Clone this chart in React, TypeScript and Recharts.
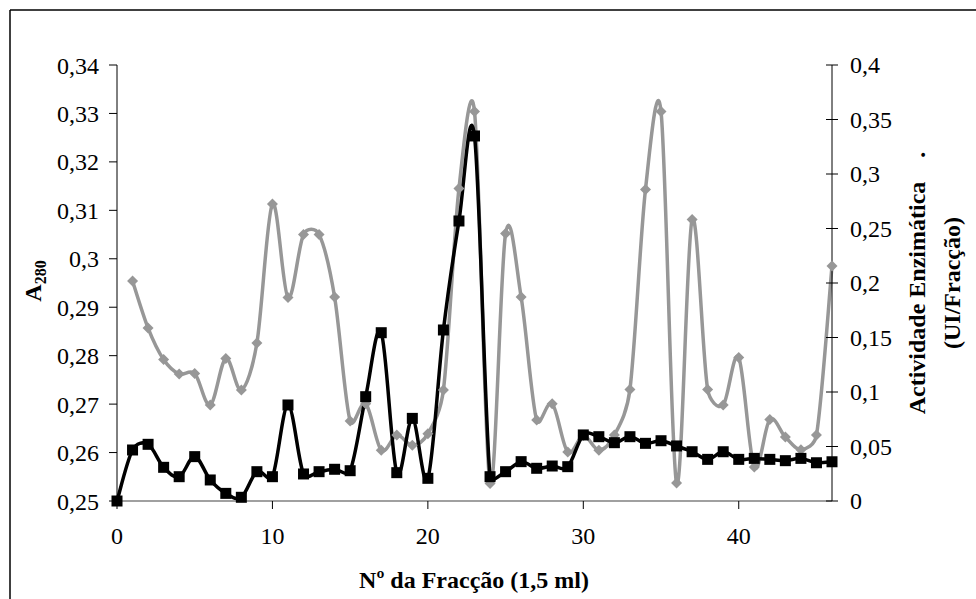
import { LineChart, Line, XAxis, YAxis } from "recharts";

// Nº da fracção (1,5 ml)
const fractions = [
  0, 1, 2, 3, 4, 5, 6, 7, 8, 9, 10, 11, 12, 13, 14, 15, 16, 17, 18, 19, 20, 21, 22, 23,
  24, 25, 26, 27, 28, 29, 30, 31, 32, 33, 34, 35, 36, 37, 38, 39, 40, 41, 42, 43, 44, 45, 46,
];

// A280 (eixo esquerdo)
const a280 = [
  null, 0.2954, 0.2857, 0.2792, 0.2762, 0.2763, 0.2698, 0.2794, 0.2729, 0.2826, 0.3113,
  0.292, 0.305, 0.305, 0.2921, 0.2665, 0.2701, 0.2605, 0.2636, 0.2615, 0.2639, 0.2729,
  0.3145, 0.3304, 0.2536, 0.3052, 0.2921, 0.2667, 0.2701, 0.2601, 0.2635, 0.2605, 0.2636,
  0.273, 0.3143, 0.3304, 0.2537, 0.3081, 0.273, 0.2698, 0.2796, 0.257, 0.2668, 0.2632,
  0.2606, 0.2636, 0.2985,
];

// Actividade enzimática, UI/fracção (eixo direito)
const actividade = [
  0, 0.0468, 0.052, 0.0309, 0.0223, 0.0407, 0.0193, 0.007, 0.0034, 0.0269, 0.0223, 0.0881,
  0.0248, 0.0269, 0.0291, 0.0278, 0.0957, 0.1544, 0.026, 0.0758, 0.0208, 0.1569, 0.2569,
  0.3349, 0.0223, 0.0269, 0.0361, 0.03, 0.0321, 0.0315, 0.0606, 0.059, 0.0535, 0.059,
  0.0529, 0.0553, 0.0505, 0.0452, 0.0382, 0.0452, 0.0382, 0.0391, 0.0382, 0.037, 0.0391,
  0.0351, 0.036,
];

const xTicks = [0, 10, 20, 30, 40];
const leftTicks = [0.25, 0.26, 0.27, 0.28, 0.29, 0.3, 0.31, 0.32, 0.33, 0.34];
const rightTicks = [0, 0.05, 0.1, 0.15, 0.2, 0.25, 0.3, 0.35, 0.4];

const chartData = fractions.map((f, i) => ({
  fraction: f,
  a280: a280[i],
  actividade: actividade[i],
}));

const FONT = "'Liberation Serif', 'Times New Roman', serif";
const GREY = "#979797";

const fmt = (v: number) => String(Number(v.toFixed(3))).replace(".", ",");

// Excel-like smoothed line: control arms = neighbour chord / 6, capped at half the segment
const excelSmooth = (context: any) => {
  let pts: number[][] = [];
  const arm = (dx: number, dy: number, max: number) => {
    const len = Math.hypot(dx, dy) / 6;
    const s = len > max && len > 0 ? max / len : 1;
    return [(dx / 6) * s, (dy / 6) * s];
  };
  return {
    areaStart() {},
    areaEnd() {},
    lineStart() {
      pts = [];
    },
    point(x: number, y: number) {
      pts.push([+x, +y]);
    },
    lineEnd() {
      if (!pts.length) return;
      context.moveTo(pts[0][0], pts[0][1]);
      for (let i = 0; i < pts.length - 1; i++) {
        const p0 = pts[i - 1] || pts[i];
        const p1 = pts[i];
        const p2 = pts[i + 1];
        const p3 = pts[i + 2] || pts[i + 1];
        const half = Math.hypot(p2[0] - p1[0], p2[1] - p1[1]) / 2;
        const a1 = arm(p2[0] - p0[0], p2[1] - p0[1], half);
        const a2 = arm(p3[0] - p1[0], p3[1] - p1[1], half);
        context.bezierCurveTo(
          p1[0] + a1[0],
          p1[1] + a1[1],
          p2[0] - a2[0],
          p2[1] - a2[1],
          p2[0],
          p2[1]
        );
      }
    },
  };
};

const DiamondDot = (props: any) => {
  const { cx, cy, index } = props;
  if (cx == null || cy == null) return <g key={`d-${index}`} />;
  const r = 5.5;
  return (
    <path
      key={`d-${index}`}
      d={`M${cx},${cy - r}L${cx + r},${cy}L${cx},${cy + r}L${cx - r},${cy}Z`}
      fill={GREY}
      stroke="none"
    />
  );
};

const SquareDot = (props: any) => {
  const { cx, cy, index } = props;
  if (cx == null || cy == null) return <g key={`s-${index}`} />;
  const h = 5.5;
  return <rect key={`s-${index}`} x={cx - h} y={cy - h} width={h * 2} height={h * 2} fill="#000" />;
};

// right axis: tick mark crosses the axis line
const RightTick = (props: any) => {
  const { x, y, payload } = props;
  const ax = x - 6 - 12;
  return (
    <g>
      <line x1={ax - 6} x2={ax + 6} y1={y} y2={y} stroke="#000" strokeWidth={1} />
      <text x={x} y={y} dy="0.35em" textAnchor="start" fontSize={24} fontFamily={FONT} fill="#000">
        {fmt(payload.value)}
      </text>
    </g>
  );
};

export default function App() {
  return (
    <div style={{ position: "absolute", left: 0, top: 0, width: 976, height: 599, background: "#fff" }}>
      <LineChart
        width={976}
        height={599}
        data={chartData}
        margin={{ top: 65, right: 104, bottom: 58, left: 17 }}
      >
        <XAxis
          dataKey="fraction"
          type="number"
          domain={[0, 46]}
          ticks={xTicks}
          height={40}
          tickSize={8}
          tickMargin={18}
          axisLine={{ stroke: "#808080", strokeWidth: 1.5 }}
          tickLine={{ stroke: "#000" }}
          tick={{ fill: "#000", fontSize: 24, fontFamily: FONT }}
        />
        <YAxis
          yAxisId="left"
          orientation="left"
          domain={[0.25, 0.34]}
          ticks={leftTicks}
          width={100}
          tickSize={8}
          tickMargin={10}
          tickFormatter={fmt}
          axisLine={{ stroke: "#000" }}
          tickLine={{ stroke: "#000" }}
          tick={{ fill: "#000", fontSize: 24, fontFamily: FONT }}
        />
        <YAxis
          yAxisId="right"
          orientation="right"
          domain={[0, 0.4]}
          ticks={rightTicks}
          width={40}
          tickSize={6}
          tickMargin={12}
          axisLine={{ stroke: "#000" }}
          tickLine={false}
          tick={<RightTick />}
        />
        <Line
          yAxisId="left"
          dataKey="a280"
          type={excelSmooth as any}
          stroke={GREY}
          strokeWidth={3.5}
          dot={DiamondDot}
          activeDot={false}
          isAnimationActive={false}
        />
        <Line
          yAxisId="right"
          dataKey="actividade"
          type={excelSmooth as any}
          stroke="#000"
          strokeWidth={3.5}
          dot={SquareDot}
          activeDot={false}
          isAnimationActive={false}
        />
      </LineChart>
      <svg
        width={976}
        height={599}
        style={{ position: "absolute", left: 0, top: 0, pointerEvents: "none" }}
      >
        <line x1={10} y1={10} x2={976} y2={10} stroke="#000" strokeWidth={1.5} />
        <line x1={10} y1={10} x2={10} y2={599} stroke="#000" strokeWidth={1.5} />
        <text
          x={474}
          y={580}
          dy="0.35em"
          textAnchor="middle"
          fontFamily={FONT}
          fontWeight="bold"
          fontSize={24}
          fill="#000"
        >
          Nº da Fracção (1,5 ml)
        </text>
        <text
          transform="translate(33,281) rotate(-90)"
          textAnchor="middle"
          dy="0.35em"
          fontFamily={FONT}
          fontWeight="bold"
          fontSize={24}
          fill="#000"
        >
          A
          <tspan fontSize={16} dy={5}>
            280
          </tspan>
        </text>
        <text
          transform="translate(917,283) rotate(-90)"
          textAnchor="middle"
          dy="0.35em"
          fontFamily={FONT}
          fontWeight="bold"
          fontSize={24}
          fill="#000"
          style={{ whiteSpace: "pre" }}
        >
          {"Actividade Enzimática    ."}
        </text>
        <text
          transform="translate(952,283) rotate(-90)"
          textAnchor="middle"
          dy="0.35em"
          fontFamily={FONT}
          fontWeight="bold"
          fontSize={24}
          fill="#000"
        >
          (UI/Fracção)
        </text>
      </svg>
    </div>
  );
}
